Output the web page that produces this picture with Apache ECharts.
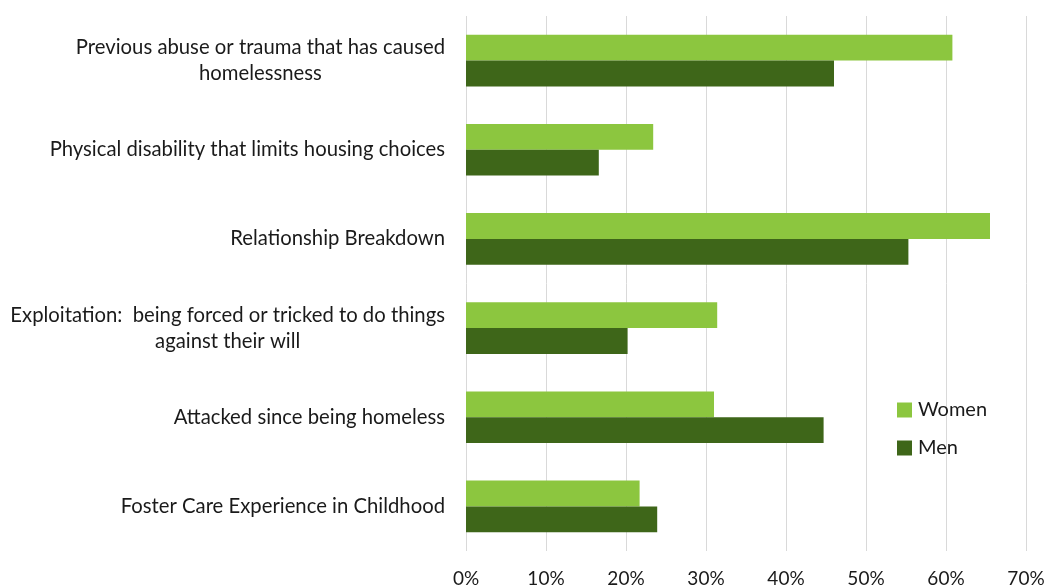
<!DOCTYPE html>
<html>
<head>
<meta charset="utf-8">
<script src="https://cdn.jsdelivr.net/npm/echarts@6/dist/echarts.min.js"></script>
<style>html,body{margin:0;padding:0;background:#fff}#c{width:1047px;height:588px}</style>
</head>
<body>
<div id="c"></div>
<script>
const categories = [
  "Previous abuse or trauma that has caused\nhomelessness",
  "Physical disability that limits housing choices",
  "Relationship Breakdown",
  "Exploitation:  being forced or tricked to do things\nagainst their will",
  "Attacked since being homeless",
  "Foster Care Experience in Childhood"
];
const women = [60.8, 23.4, 65.5, 31.4, 31.0, 21.7];
const men = [46.0, 16.6, 55.3, 20.2, 44.7, 23.9];
const xTicks = [0, 10, 20, 30, 40, 50, 60, 70];

const FONT = 'Lato';
const chart = echarts.init(document.getElementById('c'), null, {renderer: 'canvas'});
chart.setOption({
  animation: false,
  textStyle: {fontFamily: FONT},
  grid: {left: 466, right: 21, top: 16, bottom: 37, containLabel: false, outerBoundsMode: 'none'},
  legend: {
    orient: 'vertical', left: 892, top: 395,
    data: ['Women', 'Men'],
    icon: 'rect', itemWidth: 15, itemHeight: 15, itemGap: 18,
    textStyle: {fontFamily: FONT, fontSize: 20, lineHeight: 20, color: '#1a1a1a', padding: [0, 0, 0, 1]}
  },
  xAxis: {
    type: 'value', min: 0, max: 70, interval: 10,
    axisLine: {show: false}, axisTick: {show: false},
    splitLine: {lineStyle: {color: '#d9d9d9', width: 1}},
    axisLabel: {margin: 18, fontSize: 19, color: '#1a1a1a', fontFamily: FONT,
      formatter: v => xTicks.includes(v) ? v + '%' : ''}
  },
  yAxis: {
    type: 'category', data: categories, inverse: true,
    axisLine: {show: false}, axisTick: {show: false},
    axisLabel: {
      margin: 21, color: '#1a1a1a', fontFamily: FONT, fontSize: 20.3, lineHeight: 26,
      formatter: v => v.split('\n').map(s => '{c|' + s + '}').join('\n'),
      rich: {c: {align: 'center', fontFamily: FONT, fontSize: 20.3, lineHeight: 26, color: '#1a1a1a'}}
    }
  },
  series: [
    {name: 'Women', type: 'bar', data: women, barGap: '0%', barCategoryGap: '42%',
     itemStyle: {color: '#8cc63f'}},
    {name: 'Men', type: 'bar', data: men, barGap: '0%', barCategoryGap: '42%',
     itemStyle: {color: '#3e6619'}}
  ]
});
</script>
</body>
</html>
